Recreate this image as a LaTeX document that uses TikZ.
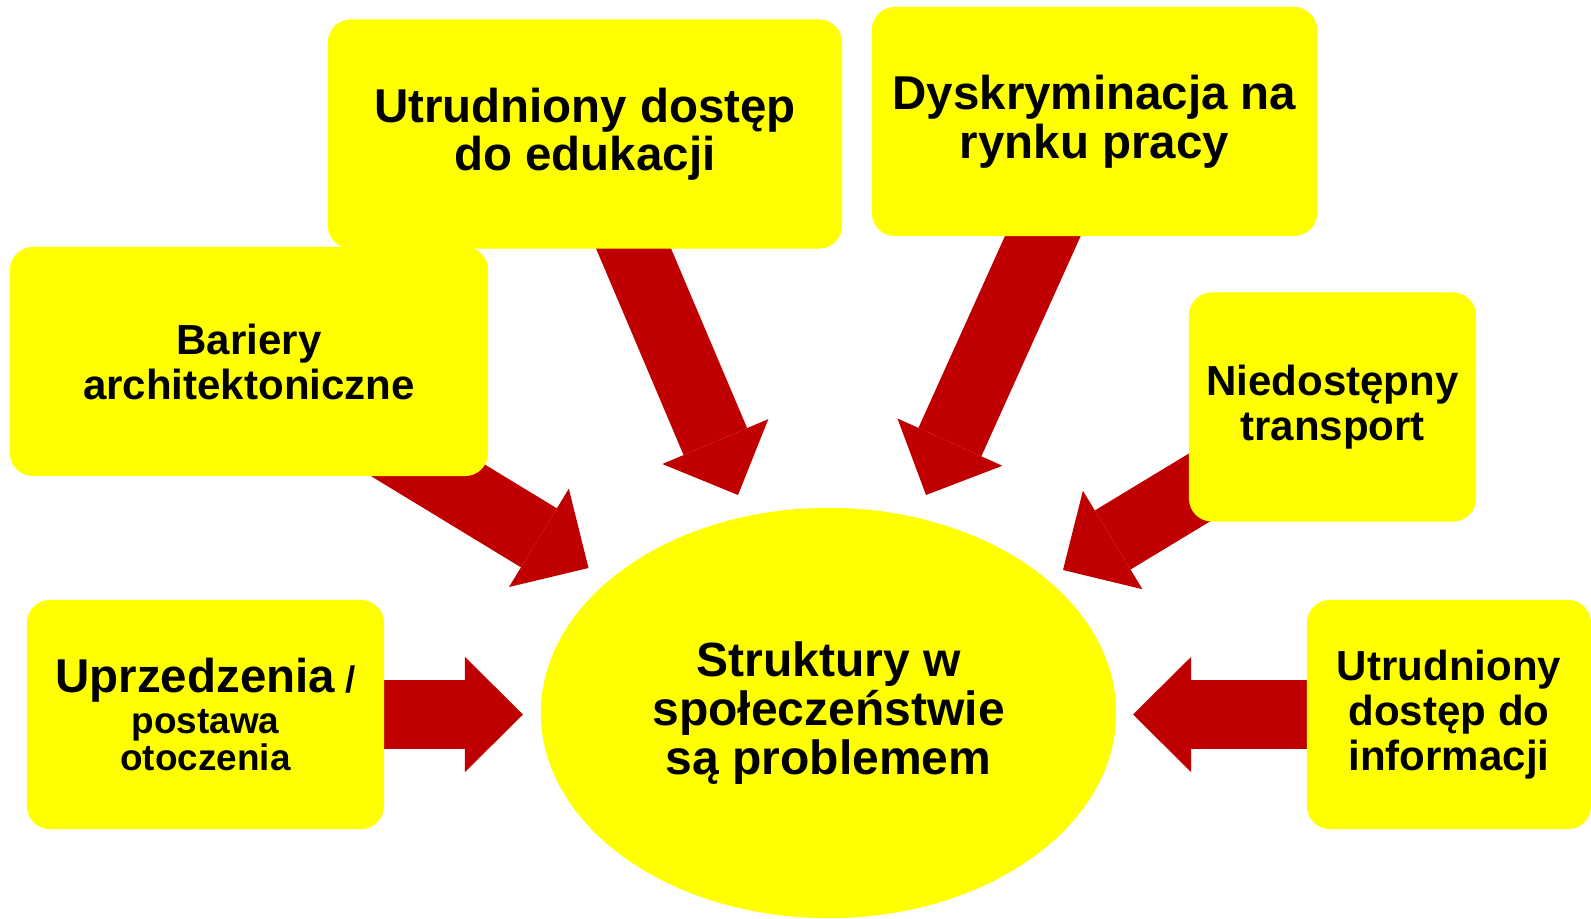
\documentclass[tikz,border=0pt]{standalone}
\usepackage{fontspec}
\setmainfont{Liberation Sans}
\usetikzlibrary{arrows.meta,shapes.geometric,backgrounds}
\definecolor{boxyellow}{RGB}{255,255,0}
\definecolor{arrowred}{RGB}{192,0,0}
\tikzset{
    box/.style={fill=boxyellow,rounded corners=0.23cm,align=center,inner sep=0pt,minimum height=2.29cm},
    bigtext/.style={font=\bfseries\fontsize{13.5}{13.8}\selectfont},
    midtext/.style={font=\bfseries\fontsize{11.95}{12.8}\selectfont},
    smalltext/.style={font=\bfseries\fontsize{10.5}{10.7}\selectfont},
    fatarrow/.style={draw=arrowred,line width=0.69cm,-{Triangle[width=1.15cm,length=0.58cm,line width=0pt]}}
}
\begin{document}
\begin{tikzpicture}[x=0.01cm,y=-0.01cm]
            \useasboundingbox (0,0) rectangle (1591,918);
            \node[box,bigtext,minimum width=5.14cm] (edu) at (585,134) {Utrudniony dostęp\\do edukacji};
            \node[box,bigtext,minimum width=4.45cm] (dys) at (1094.5,121.5) {Dyskryminacja na\\rynku pracy};
            \node[box,midtext,minimum width=4.78cm] (bar) at (249,361.5) {Bariery\\architektoniczne};
            \node[box,midtext,minimum width=2.87cm] (nie) at (1332.5,407) {Niedostępny\\transport};
            \node[box,smalltext,minimum width=3.57cm] (upr) at (205.5,714.5) {{\fontsize{13.5}{13.8}\selectfont Uprzedzenia} /\\[0.03cm]postawa\\otoczenia};
            \node[box,midtext,minimum width=2.84cm] (inf) at (1449,714.5) {Utrudniony\\dostęp do\\informacji};
            \node[ellipse,fill=boxyellow,inner sep=0pt,minimum width=5.75cm,minimum height=4.1cm,align=center,
                  font=\bfseries\fontsize{13.66}{13.9}\selectfont] (str) at (828.5,713) {Struktury w\\społeczeństwie\\są problemem};
            % arrow tips
            \coordinate (tE) at (738,495);
            \coordinate (tD) at (926,495);
            \coordinate (tB) at (588.5,568);
            \coordinate (tN) at (1063,570);
            \coordinate (tU) at (523,714.5);
            \coordinate (tI) at (1133,714.5);
            \begin{scope}[on background layer]
                \foreach \src/\dst in {edu/tE,dys/tD,bar/tB,nie/tN,upr/tU,inf/tI}{
                    \draw[fatarrow] (\src.center) -- (\dst);
                }
            \end{scope}
        \end{tikzpicture}
\end{document}
